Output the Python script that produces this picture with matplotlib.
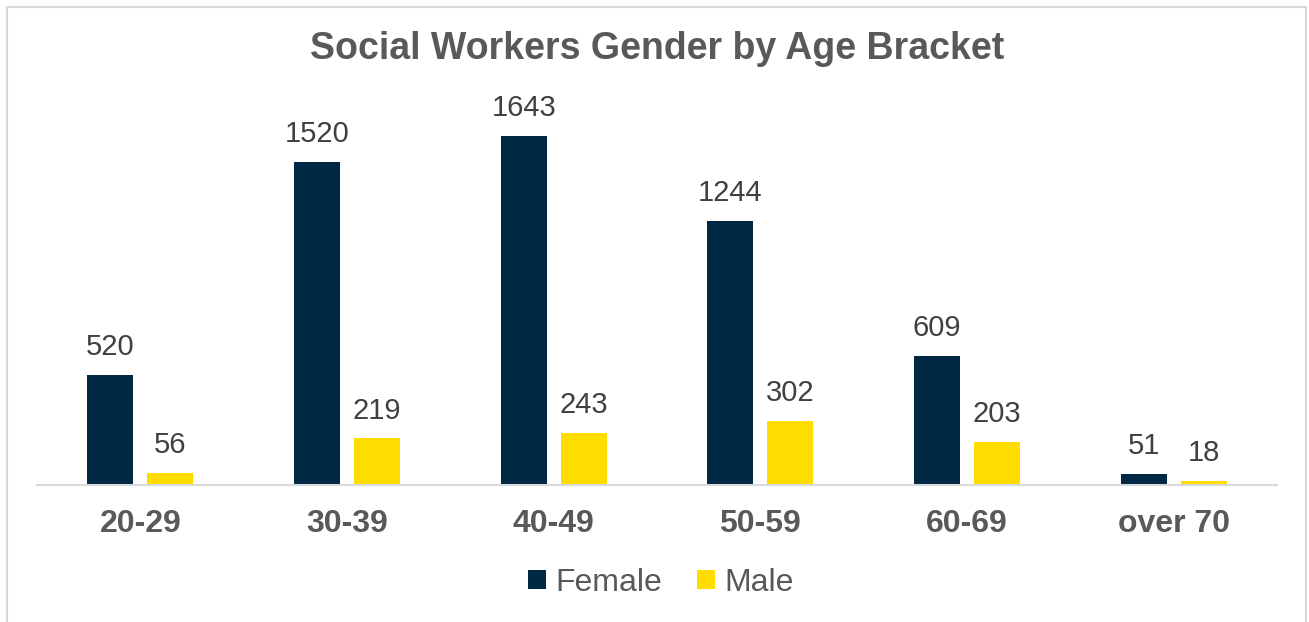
import numpy as np
import matplotlib
matplotlib.use("Agg")
import matplotlib.pyplot as plt
from matplotlib.patches import Rectangle

brackets = ["20-29", "30-39", "40-49", "50-59", "60-69", "over 70"]
female = [520, 1520, 1643, 1244, 609, 51]
male = [56, 219, 243, 302, 203, 18]

navy = "#002845"
yellow = "#FFDD00"
grey_text = "#595959"

plt.rcParams["font.family"] = ["Liberation Sans", "DejaVu Sans"]

W, H = 1309, 622
fig = plt.figure(figsize=(W / 100, H / 100), dpi=100)

# light grey outer frame
fig.patches.append(Rectangle((7 / W, -0.01), (1306 - 7) / W, 1 - 7 / H + 0.01,
                             transform=fig.transFigure, fill=False,
                             edgecolor="#d9d9d9", linewidth=1.5))

ax = fig.add_axes([37 / W, 1 - 485 / H, (1277 - 37) / W, (485 - 100) / H])

x = np.arange(len(brackets))
w = 0.2225
off = 0.145
b1 = ax.bar(x - off, female, w, color=navy, label="Female")
b2 = ax.bar(x + off, male, w, color=yellow, label="Male")

for bars, vals in [(b1, female), (b2, male)]:
    for rect, v in zip(bars, vals):
        ax.annotate(str(v), (rect.get_x() + rect.get_width() / 2, v),
                    xytext=(0, 10), textcoords="offset points",
                    ha="center", va="bottom", fontsize=21, color="#404040")

ax.set_xlim(-0.5, len(brackets) - 0.5)
ax.set_ylim(0, 385 / 349 * 1643)
ax.set_yticks([])
ax.set_xticks(x)
ax.set_xticklabels(brackets, fontsize=23, fontweight="bold", color=grey_text)
ax.tick_params(axis="x", length=0, pad=17)
for s in ["top", "right", "left"]:
    ax.spines[s].set_visible(False)
ax.spines["bottom"].set_color("#d9d9d9")
ax.spines["bottom"].set_linewidth(1.5)

fig.text(657 / W, 1 - 49 / H, "Social Workers Gender by Age Bracket",
         ha="center", va="center", fontsize=27, fontweight="bold", color=grey_text)

leg = fig.legend(loc="center", bbox_to_anchor=(661 / W, 1 - 583 / H), ncol=2,
                 frameon=False, fontsize=23, handlelength=0.55, handleheight=0.55,
                 handletextpad=0.3, columnspacing=1.1)
for t in leg.get_texts():
    t.set_color(grey_text)

fig.savefig("out.png", dpi=100)
